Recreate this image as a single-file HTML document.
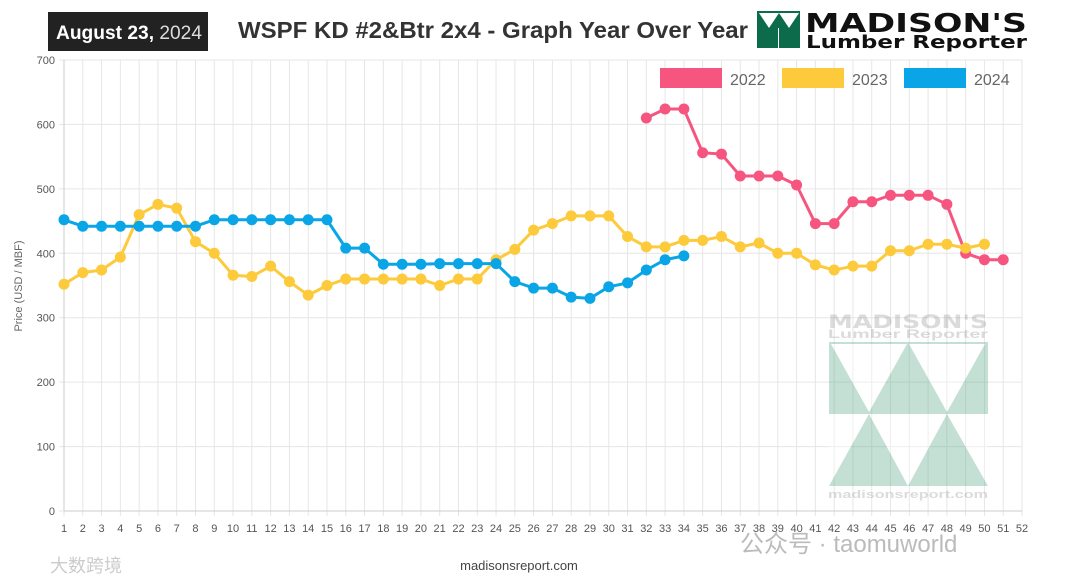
<!DOCTYPE html>
<html><head><meta charset="utf-8"><style>
body{margin:0;width:1080px;height:585px;background:#fff;overflow:hidden;font-family:"Liberation Sans",sans-serif;}
svg{position:absolute;left:0;top:0}
</style></head><body>
<svg width="1080" height="585" id="chart">
<rect x="48" y="12" width="160" height="39" fill="#222"/>
<text x="56" y="39" font-size="19" font-weight="bold" fill="#fff" textLength="146" lengthAdjust="spacingAndGlyphs">August 23,<tspan font-weight="normal" fill="#ddd"> 2024</tspan></text>
<text x="493" y="38" font-size="23" font-weight="bold" fill="#333" text-anchor="middle" textLength="510" lengthAdjust="spacingAndGlyphs">WSPF KD #2&amp;Btr 2x4 - Graph Year Over Year</text>
<g>
<rect x="757" y="11" width="43" height="37" fill="#0b6b4a"/>
<polygon points="759,13 769,28 779,13" fill="#fff"/><polygon points="779,13 789,28 799,13" fill="#fff"/>
<line x1="778.5" y1="28" x2="778.5" y2="48" stroke="#fff"/>
<text x="805" y="32" font-size="26" font-weight="bold" fill="#111" textLength="222" lengthAdjust="spacingAndGlyphs" font-family="'DejaVu Sans',sans-serif">MADISON'S</text>
<text x="806" y="48" font-size="18" font-weight="bold" fill="#111" textLength="221" lengthAdjust="spacingAndGlyphs" font-family="'DejaVu Sans',sans-serif">Lumber Reporter</text>
</g>
<g id="grid"></g>
<g opacity="0.35">
<text x="908" y="328" font-size="19" font-weight="bold" fill="#999" text-anchor="middle" textLength="160" lengthAdjust="spacingAndGlyphs" font-family="'DejaVu Sans',sans-serif">MADISON'S</text>
<text x="908" y="338" font-size="12" font-weight="bold" fill="#999" text-anchor="middle" textLength="160" lengthAdjust="spacingAndGlyphs">Lumber Reporter</text>
<rect x="829" y="342" width="159" height="144" fill="#5aa888"/>
<polygon points="831,344 869,412 907,344" fill="#fff"/><polygon points="909,344 947,412 985,344" fill="#fff"/>
<polygon points="869,414 829,486 829,414" fill="#fff"/>
<polygon points="908,414 869,414 908,486" fill="#fff"/>
<polygon points="908,414 947,414 908,486" fill="#fff"/>
<polygon points="947,414 988,414 988,486" fill="#fff"/>
<text x="908" y="498" font-size="11" font-weight="bold" fill="#999" text-anchor="middle" textLength="160" lengthAdjust="spacingAndGlyphs">madisonsreport.com</text>
</g>
<g id="series"></g>
<g>
<rect x="660" y="68" width="62" height="20" fill="#f5557f"/>
<text x="730" y="85" font-size="16" fill="#666">2022</text>
<rect x="782" y="68" width="62" height="20" fill="#fcca3a"/>
<text x="852" y="85" font-size="16" fill="#666">2023</text>
<rect x="904" y="68" width="62" height="20" fill="#0aa5e6"/>
<text x="974" y="85" font-size="16" fill="#666">2024</text>
</g>
<text x="22" y="286" font-size="11" fill="#666" text-anchor="middle" transform="rotate(-90 22 286)">Price (USD / MBF)</text>
<text x="519" y="570" font-size="13" fill="#444" text-anchor="middle">madisonsreport.com</text>
<text x="740" y="552" font-size="24" fill="#bbb" font-family="'Liberation Sans','Noto Sans CJK SC',sans-serif">公众号 · taomuworld</text>
<text x="50" y="572" font-size="18" fill="#ccc" font-family="'Liberation Sans','Noto Sans CJK SC',sans-serif">大数跨境</text>
</svg>
<script>
const weeks=[];for(let i=1;i<=52;i++)weeks.push(i);
const yTicks=[0,100,200,300,400,500,600,700];
const s2022Start=32;
const s2022=[610,624,624,556,554,520,520,520,506,446,446,480,480,490,490,490,476,400,390,390];
const s2023=[352,370,374,394,460,476,470,418,400,366,364,380,356,335,350,360,360,360,360,360,350,360,360,390,406,436,446,458,458,458,426,410,410,420,420,426,410,416,400,400,382,374,380,380,404,404,414,414,408,414];
const s2024=[452,442,442,442,442,442,442,442,452,452,452,452,452,452,452,408,408,383,383,383,384,384,384,384,356,346,346,332,330,348,354,374,390,396];
const X0=64,X1=1022,Y0=511,Y1=60;
const xs=w=>X0+(w-1)*(X1-X0)/51;
const ys=v=>Y0-v*(Y0-Y1)/700;
const NS="http://www.w3.org/2000/svg";
const grid=document.getElementById('grid'),ser=document.getElementById('series');
function mk(t,a,p){const e=document.createElementNS(NS,t);for(const k in a)e.setAttribute(k,a[k]);p.appendChild(e);return e;}
weeks.forEach(w=>{
 const l=mk('line',{x1:xs(w),x2:xs(w),y1:Y1,y2:Y0+5,stroke:'#e6e6e6'},grid);
 
 
 const t=mk('text',{x:xs(w),y:Y0+21,'font-size':11,fill:'#555','text-anchor':'middle'},grid);
 t.textContent=w;
 
 
});
yTicks.forEach(v=>{
 const l=mk('line',{x1:X0-5,x2:X1,y1:ys(v),y2:ys(v),stroke:'#e6e6e6'},grid);
 
 
 const t=mk('text',{x:X0-9,y:ys(v)+4,'font-size':11,fill:'#555','text-anchor':'end'},grid);
 t.textContent=v;
 
 
});
mk('line',{x1:X0,x2:X0,y1:Y1,y2:Y0,stroke:'#ccc'},grid);
mk('line',{x1:X0,x2:X1,y1:Y0,y2:Y0,stroke:'#ccc'},grid);
function draw(data,start,color,name){
 const pts=data.map((v,i)=>[xs(start+i),ys(v)]);
 const p=mk('polyline',{points:pts.map(q=>q.join(',')).join(' '),fill:'none',stroke:color,'stroke-width':3,'stroke-linejoin':'round'},ser);
 
 
 pts.forEach(q=>{
  const c=mk('circle',{cx:q[0],cy:q[1],r:5.5,fill:color},ser);
  
  
 });
}
draw(s2022,s2022Start,'#f5557f','series-2022');
draw(s2023,1,'#fcca3a','series-2023');
draw(s2024,1,'#0aa5e6','series-2024');
</script>
</body></html>
